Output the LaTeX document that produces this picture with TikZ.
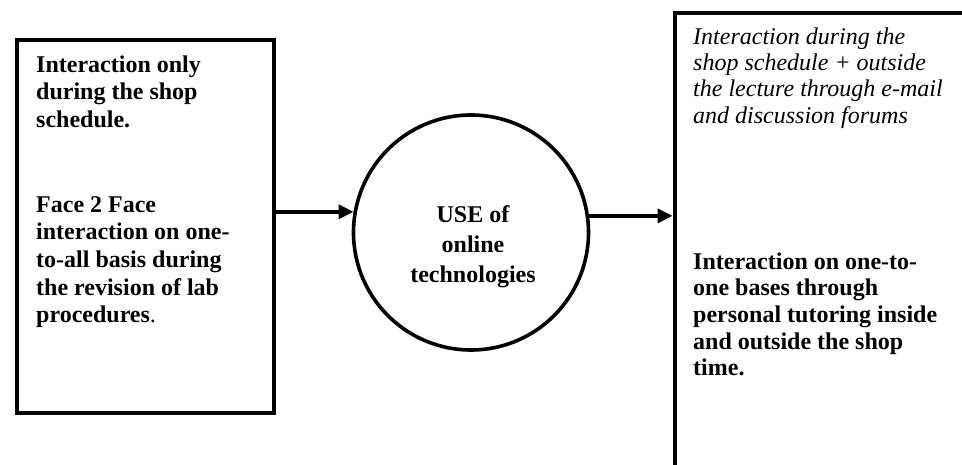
\documentclass[tikz,border=0pt]{standalone}
\usepackage{fontspec}
\setmainfont{Liberation Serif}
\usetikzlibrary{arrows.meta}
\begin{document}
\begin{tikzpicture}[x=1pt,y=-1pt,
  frame/.style={draw, rectangle, line width=4pt, inner sep=0pt, anchor=north west},
  hub/.style={draw, circle, line width=3.6pt, minimum size=235pt, inner sep=0pt},
  flow/.style={line width=3.6pt, -{Triangle[length=15pt,width=14pt]}},
  boldleft/.style={anchor=north west, inner sep=0pt, align=left, font=\bfseries\fontsize{24}{27.6}\selectfont},
  boldright/.style={anchor=north west, inner sep=0pt, align=left, font=\bfseries\fontsize{24}{26.6}\selectfont},
  italright/.style={anchor=north west, inner sep=0pt, align=left, font=\itshape\fontsize{24}{26.4}\selectfont},
  hubtext/.style={anchor=north, inner sep=0pt, align=center, font=\bfseries\fontsize{24}{30}\selectfont}]
\useasboundingbox (0,0) rectangle (962,465);
\fill[white] (0,0) rectangle (962,465);

% left box
\node[frame, minimum width=257.2pt, minimum height=373pt] (lbox) at (14.5,38) {};
\node[boldleft] (ltop) at (36,52.7) {\strut Interaction only\\during the shop\\schedule.};
\node[boldleft] (lbot) at (36,192.7) {\strut Face 2 Face\\interaction on one-\\to-all basis during\\the revision of lab\\procedures\textmd{.}};

% right box (runs past the page edge)
\begin{scope}
  \clip (0,0) rectangle (962,465);
  \node[frame, minimum width=330pt, minimum height=490pt] (rbox) at (672.5,11) {};
\end{scope}
\node[italright] (rtop) at (693,25.5) {\strut Interaction during the\\shop schedule + outside\\the lecture through e-mail\\and discussion forums};
\node[boldright] (rbot) at (693,250.4) {\strut Interaction on one-to-\\one bases through\\personal tutoring inside\\and outside the shop\\time.};

% circle
\node[hub] (hub) at (471,232.5) {};
\node[hubtext] (hubt) at (473,201) {\strut USE of\\online\\technologies};

% arrows
\draw[flow] (lbox.east |- hub.170.6) -- (hub.170.6);
\draw[flow] (hub.8.7) -- (rbox.west |- hub.8.7);
\end{tikzpicture}
\end{document}
